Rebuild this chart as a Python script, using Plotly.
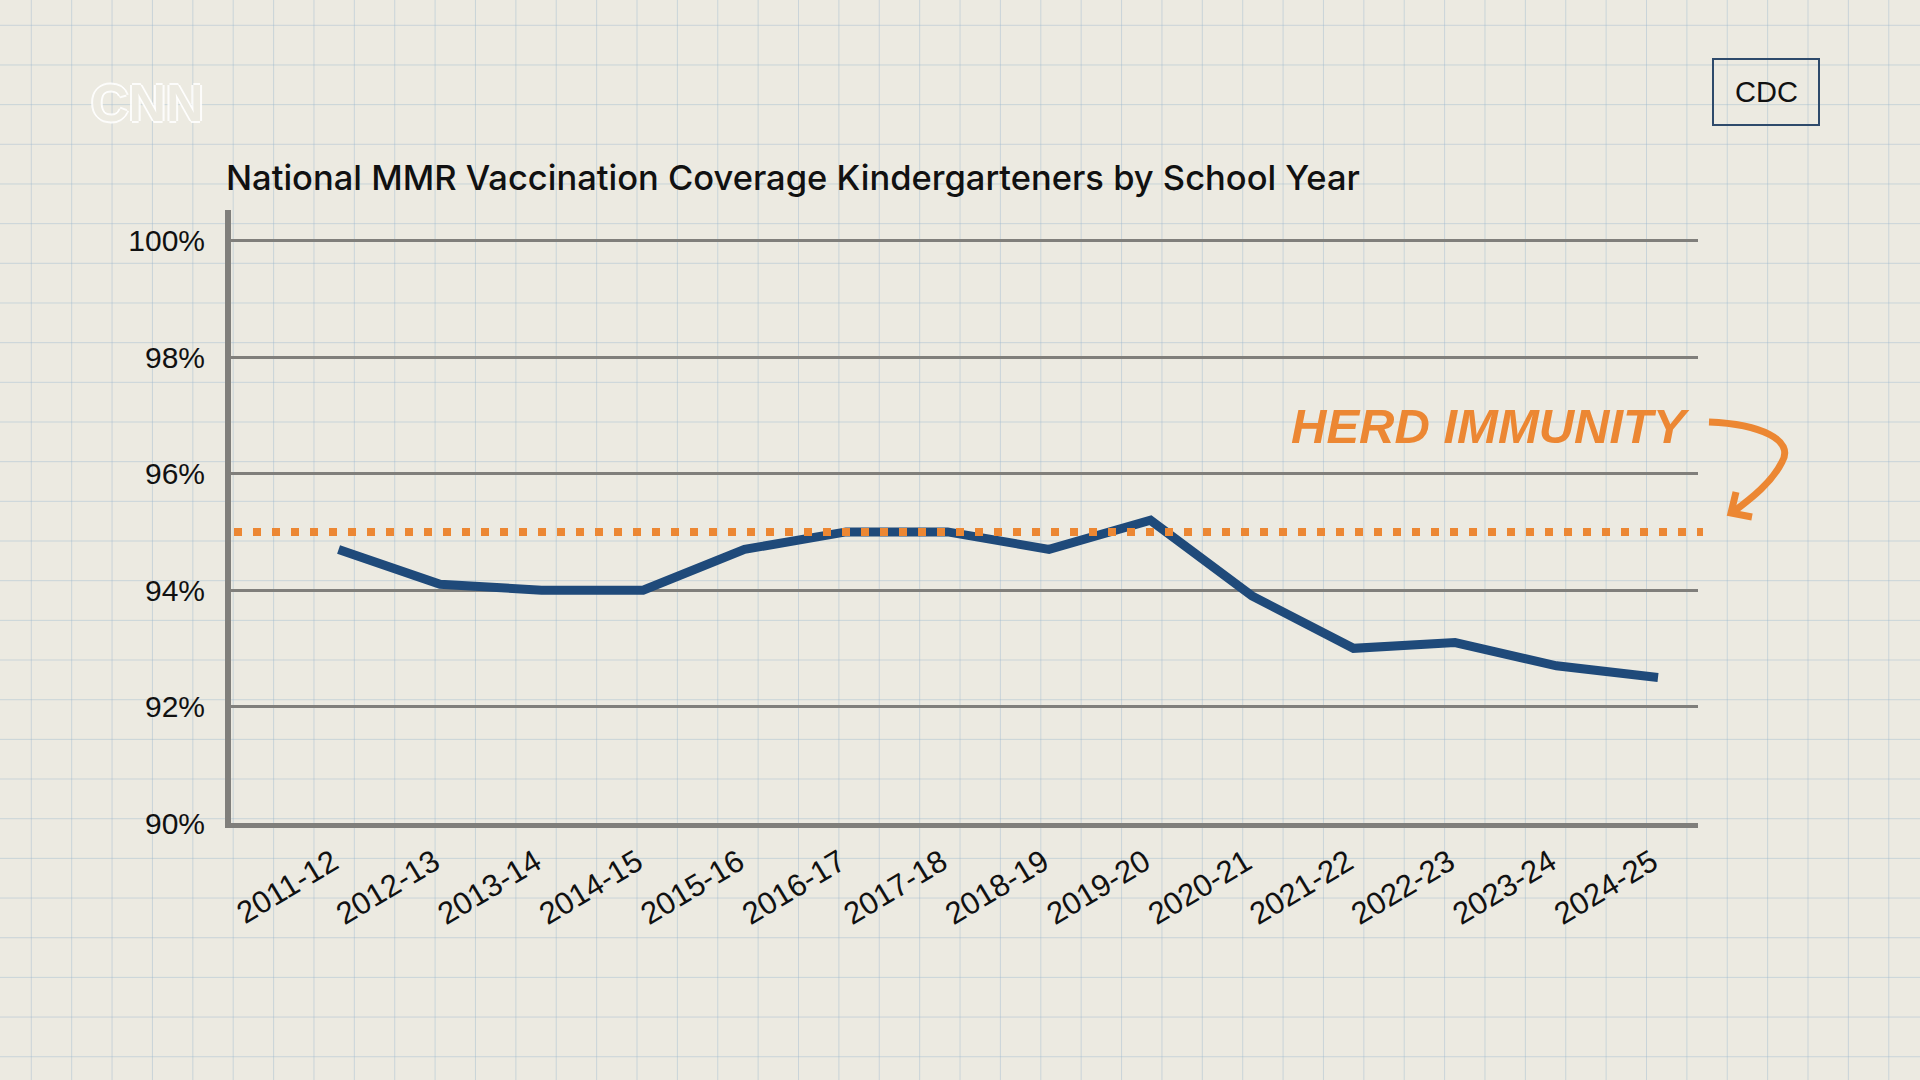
import plotly.graph_objects as go

# school years and MMR coverage (%)
years = ["2011-12", "2012-13", "2013-14", "2014-15", "2015-16", "2016-17", "2017-18",
         "2018-19", "2019-20", "2020-21", "2021-22", "2022-23", "2023-24", "2024-25"]
coverage = [94.7, 94.1, 94.0, 94.0, 94.7, 95.0, 95.0, 94.7, 95.2, 93.9, 93.0, 93.1, 92.7, 92.5]
herd_level = 95
y_ticks = [90, 92, 94, 96, 98, 100]
y_labels = [f"{v}%" for v in y_ticks]

BG = "#ECEAE1"
BLUE = "#1F4A7A"
ORANGE = "#EC8733"
GRAY = "#807F7B"

# plot area in pixels
L, R, T, B = 231, 1698, 210, 823
W, H = R - L, B - T


def px(x):
    return (x - L) / W


def py(y):
    return (B - y) / H


fig = go.Figure()
fig.add_trace(go.Scatter(x=years, y=coverage, mode="lines",
                         line=dict(color=BLUE, width=9), hoverinfo="skip",
                         showlegend=False))

shapes = []
# graph paper background
gx = 31.3
while gx < 1920:
    shapes.append(dict(type="line", xref="paper", yref="paper", x0=px(gx), x1=px(gx),
                       y0=py(0), y1=py(1080), line=dict(color="rgba(150,180,205,0.4)", width=1),
                       layer="below"))
    gx += 40.38
gy = 25.3
while gy < 1080:
    shapes.append(dict(type="line", xref="paper", yref="paper", x0=px(0), x1=px(1920),
                       y0=py(gy), y1=py(gy), line=dict(color="rgba(150,180,205,0.4)", width=1),
                       layer="below"))
    gy += 39.67

# herd immunity dotted line
shapes.append(dict(type="line", xref="paper", yref="y", x0=px(234), x1=px(1703),
                   y0=herd_level, y1=herd_level,
                   line=dict(color=ORANGE, width=8, dash="8px,11px")))

# curved arrow
def pt(x, y):
    return f"{px(x):.5f},{py(y):.5f}"

arrow = ("M " + pt(1709, 422) + " C " + pt(1760, 424) + " " + pt(1795, 440) + " " + pt(1782, 462)
         + " C " + pt(1772, 482) + " " + pt(1752, 498) + " " + pt(1733, 512))
shapes.append(dict(type="path", xref="paper", yref="paper", path=arrow,
                   line=dict(color=ORANGE, width=7)))
head = "M " + pt(1736, 492) + " L " + pt(1731, 513) + " L " + pt(1752, 517)
shapes.append(dict(type="path", xref="paper", yref="paper", path=head,
                   line=dict(color=ORANGE, width=7)))

# CDC box
shapes.append(dict(type="rect", xref="paper", yref="paper", x0=px(1713), x1=px(1819),
                   y0=py(125), y1=py(59), line=dict(color="#2E4A6B", width=2)))

annotations = [
    dict(text="National MMR Vaccination Coverage Kindergarteners by School Year",
         xref="paper", yref="paper", x=px(224), y=py(178), xanchor="left", yanchor="middle",
         showarrow=False, font=dict(family="Inter, Liberation Sans", size=34.5, weight=500,
                                    color="#111111")),
    dict(text="CDC", xref="paper", yref="paper", x=px(1766), y=py(92), xanchor="center",
         yanchor="middle", showarrow=False,
         font=dict(family="Liberation Sans, Arial", size=29, color="#111111")),
    dict(text="<i><b>HERD IMMUNITY</b></i>", xref="paper", yref="paper", x=px(1490), y=py(426),
         xanchor="center", yanchor="middle", showarrow=False,
         font=dict(family="Liberation Sans, Arial", size=49, color=ORANGE)),
    dict(text="<b>CNN</b>", xref="paper", yref="paper", x=px(147), y=py(103),
         xanchor="center", yanchor="middle", showarrow=False,
         font=dict(family="Liberation Sans, Arial", size=52, color=BG,
                   shadow="2px 0 0 rgba(255,255,255,0.85), -2px 0 0 rgba(255,255,255,0.85), 0 2px 0 rgba(255,255,255,0.85), 0 -2px 0 rgba(255,255,255,0.85)")),
]

fig.update_layout(
    width=1920, height=1080,
    margin=dict(l=L, r=1920 - R, t=T, b=1080 - B),
    paper_bgcolor=BG, plot_bgcolor="rgba(0,0,0,0)",
    shapes=shapes, annotations=annotations,
    showlegend=False,
    xaxis=dict(type="category", range=[-1.06, 13.394], showgrid=False, zeroline=False,
               showline=True, linecolor=GRAY, linewidth=5, tickangle=-31,
               ticklabelstandoff=4, ticklabelshift=-6,
               tickfont=dict(family="Liberation Sans, Arial", size=31, color="#111111")),
    yaxis=dict(range=[90, 100.53], tickvals=y_ticks, ticktext=y_labels, showgrid=True,
               gridcolor=GRAY, gridwidth=2.5, zeroline=False, showline=True,
               linecolor=GRAY, linewidth=6, ticklabelstandoff=14,
               tickfont=dict(family="Liberation Sans, Arial", size=30, color="#111111")),
)

fig.write_html("out.html", config={"displayModeBar": False},
               post_script="document.body.style.margin='0';")
